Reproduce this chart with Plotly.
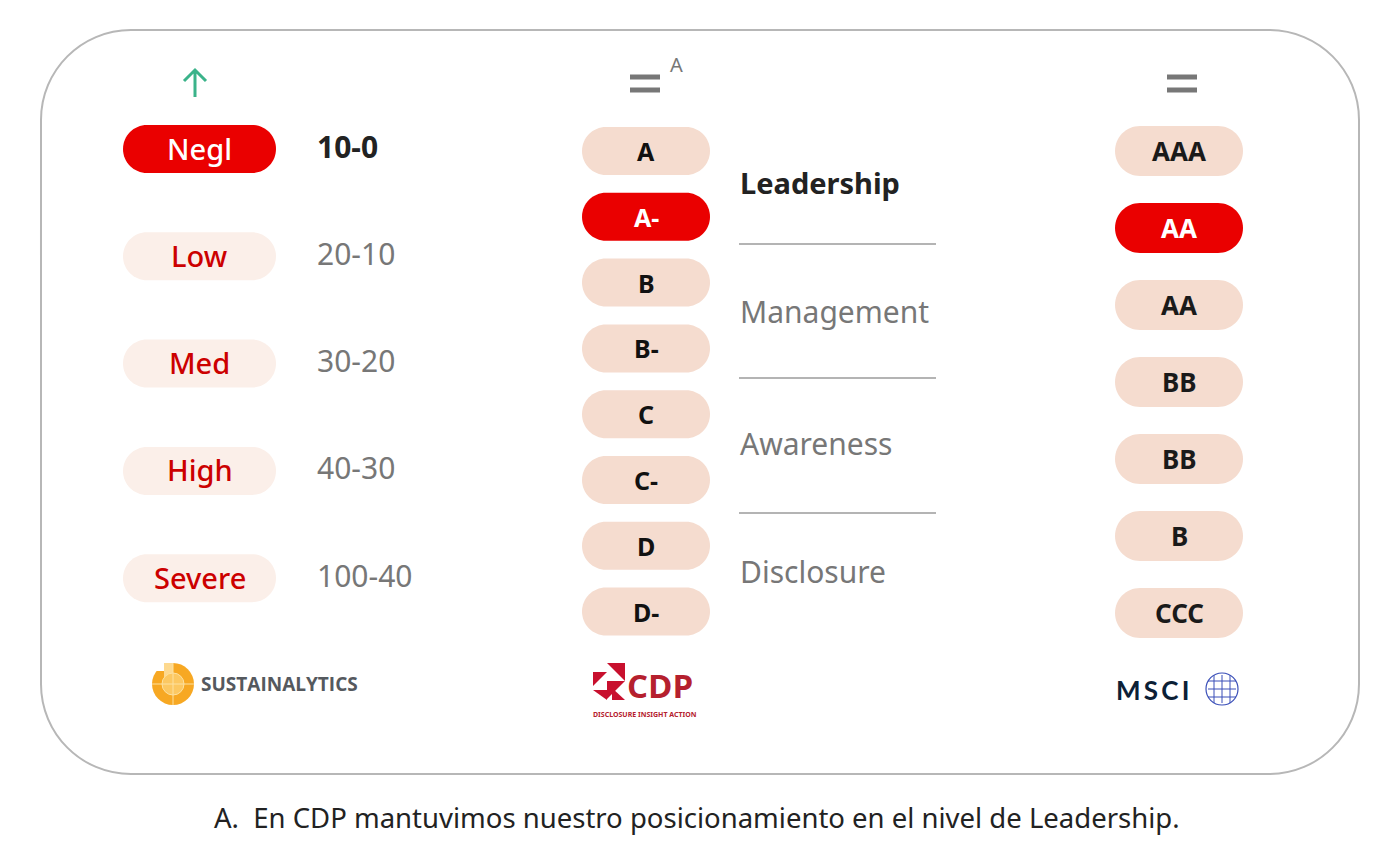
import plotly.graph_objects as go

# ---- data ----
risk_labels = ["Negl", "Low", "Med", "High", "Severe"]
risk_ranges = ["10-0", "20-10", "30-20", "40-30", "100-40"]
risk_current = 0

cdp_grades = ["A", "A-", "B", "B-", "C", "C-", "D", "D-"]
cdp_current = 1
cdp_levels = ["Leadership", "Management", "Awareness", "Disclosure"]
cdp_level_current = 0

msci_grades = ["AAA", "AA", "AA", "BB", "BB", "B", "CCC"]
msci_current = 1

footnote = "A.  En CDP mantuvimos nuestro posicionamiento en el nivel de Leadership."

RED = "#ea0000"
PEACH = "#f5dccf"
BLUSH = "#fbefe9"
GREY_TXT = "#777777"
DARK = "#222222"
FONT = "Noto Sans"

W, H = 1400, 866
OFF = 8  # page body margin, shift the axes so data units == page pixels


def rrect(x0, y0, x1, y1, r):
    """rounded rectangle path (bezier corners, plotly has no arcs)"""
    k = 0.5523 * r
    return (f"M {x0+r},{y0} L {x1-r},{y0} C {x1-r+k},{y0} {x1},{y0+r-k} {x1},{y0+r} "
            f"L {x1},{y1-r} C {x1},{y1-r+k} {x1-r+k},{y1} {x1-r},{y1} "
            f"L {x0+r},{y1} C {x0+r-k},{y1} {x0},{y1-r+k} {x0},{y1-r} "
            f"L {x0},{y0+r} C {x0},{y0+r-k} {x0+r-k},{y0} {x0+r},{y0} Z")


shapes = []
annotations = []


def add_text(x, y, text, size, color, bold=False, xanchor="center", family=FONT, weight=None):
    f = dict(family=family, size=size, color=color)
    if weight:
        f["weight"] = weight
    annotations.append(dict(x=x, y=y, text=f"<b>{text}</b>" if bold else text,
                            showarrow=False, xanchor=xanchor, yanchor="middle", font=f))


def add_pill(cx, cy, w, h, fill):
    shapes.append(dict(type="path", path=rrect(cx - w / 2, cy - h / 2, cx + w / 2, cy + h / 2, h / 2),
                       fillcolor=fill, line=dict(width=0), layer="below"))


# outer frame
shapes.append(dict(type="path", path=rrect(41, 30, 1359, 774, 90),
                   line=dict(color="#b7b7b7", width=2), fillcolor="rgba(0,0,0,0)"))

# ---- Sustainalytics column ----
for i, (lab, rng) in enumerate(zip(risk_labels, risk_ranges)):
    cy = 149 + i * 107.3
    on = i == risk_current
    add_pill(199.5, cy, 153, 48, RED if on else BLUSH)
    add_text(199.5, cy - 1, lab, 29, "white" if on else "#cc0000", weight=500)
    add_text(315, cy - 3, rng, 30, DARK if on else GREY_TXT, bold=on, xanchor="left")

# green up arrow
shapes.append(dict(type="path", path="M 195,97 L 195,70 M 184,81 L 195,70 L 206,81",
                   line=dict(color="#3bb38a", width=3)))

# ---- CDP column ----
for i, g in enumerate(cdp_grades):
    cy = 151 + i * 65.8
    on = i == cdp_current
    add_pill(646, cy, 128, 48, RED if on else PEACH)
    add_text(646, cy, g, 25, "white" if on else "#111111", bold=True)

for i, lev in enumerate(cdp_levels):
    on = i == cdp_level_current
    cy = [182, 311, 443, 571][i]
    add_text(738, cy, lev, 29 if on else 30, DARK if on else GREY_TXT, bold=on, xanchor="left")
for ly in [244, 378, 513]:
    shapes.append(dict(type="line", x0=739, x1=936, y0=ly, y1=ly,
                       line=dict(color="#b4b4b4", width=2)))

# equal signs
for ex in [645, 1182]:
    for ey in [77, 90]:
        shapes.append(dict(type="line", x0=ex - 15, x1=ex + 15, y0=ey, y1=ey,
                           line=dict(color="#777777", width=5)))
add_text(676, 64, "A", 20, GREY_TXT)

# ---- MSCI column ----
for i, g in enumerate(msci_grades):
    cy = 151 + i * 77
    on = i == msci_current
    add_pill(1179, cy, 128, 50, RED if on else PEACH)
    add_text(1179, cy, g, 26, "white" if on else "#1a1a1a", bold=True)

# ---- logos (approximate) ----
# sustainalytics
shapes.append(dict(type="circle", x0=152, x1=194, y0=663, y1=705,
                   fillcolor="#f7a823", line=dict(width=0)))
shapes.append(dict(type="rect", x0=151, x1=172, y0=662, y1=671,
                   fillcolor="white", line=dict(width=0)))
shapes.append(dict(type="rect", x0=164, x1=173, y0=663, y1=684,
                   fillcolor="#fdd98f", line=dict(width=0)))
shapes.append(dict(type="circle", x0=162, x1=184, y0=673, y1=695,
                   fillcolor="#fcc862", line=dict(color="#fde1a0", width=1)))
shapes.append(dict(type="line", x0=152, x1=194, y0=684, y1=684, line=dict(color="#fde1a0", width=1)))
shapes.append(dict(type="line", x0=173, x1=173, y0=663, y1=705, line=dict(color="#fde1a0", width=1)))
add_text(199, 684, "SUSTAINALYTICS", 19, "#55595e", bold=True, xanchor="left", family="Open Sans")

# cdp
for tri in ["M 607,663 L 625,663 L 625,681 Z", "M 593,672 L 607,672 L 593,686 Z",
            "M 607,681 L 625,681 L 607,699 Z", "M 593,690 L 607,690 L 607,700 Z",
            "M 612,688 L 625,700 L 612,700 Z"]:
    shapes.append(dict(type="path", path=tri, fillcolor="#c8102e", line=dict(width=0)))
add_text(625, 685, "CDP", 33, "#b5202e", bold=True, xanchor="left", family="Open Sans")
add_text(645, 714, "DISCLOSURE INSIGHT ACTION", 7, "#b5202e", bold=True)

# msci
add_text(1114, 690, "M\u2009S\u2009C\u2009I", 26, "#0c2036", xanchor="left", family="Lato", weight=700)
shapes.append(dict(type="circle", x0=1206, x1=1238, y0=673, y1=705,
                   line=dict(color="#3a4fb8", width=1.2)))
for gx in [1214, 1222, 1230]:
    shapes.append(dict(type="line", x0=gx, x1=gx, y0=675, y1=703, line=dict(color="#3a4fb8", width=1)))
for gy in [681, 689, 697]:
    shapes.append(dict(type="line", x0=1208, x1=1236, y0=gy, y1=gy, line=dict(color="#3a4fb8", width=1)))

# footnote
add_text(697, 817, footnote, 27.5, DARK)

fig = go.Figure()
fig.add_trace(go.Scatter(x=[OFF, W + OFF], y=[OFF, H + OFF], mode="markers", marker=dict(opacity=0),
                         hoverinfo="skip", showlegend=False))
fig.update_layout(width=W, height=H, margin=dict(l=0, r=0, t=0, b=0),
                  paper_bgcolor="white", plot_bgcolor="white",
                  shapes=shapes, annotations=annotations, showlegend=False)
fig.update_xaxes(range=[OFF, W + OFF], visible=False, fixedrange=True)
fig.update_yaxes(range=[H + OFF, OFF], visible=False, fixedrange=True)
fig.write_html("out.html")
